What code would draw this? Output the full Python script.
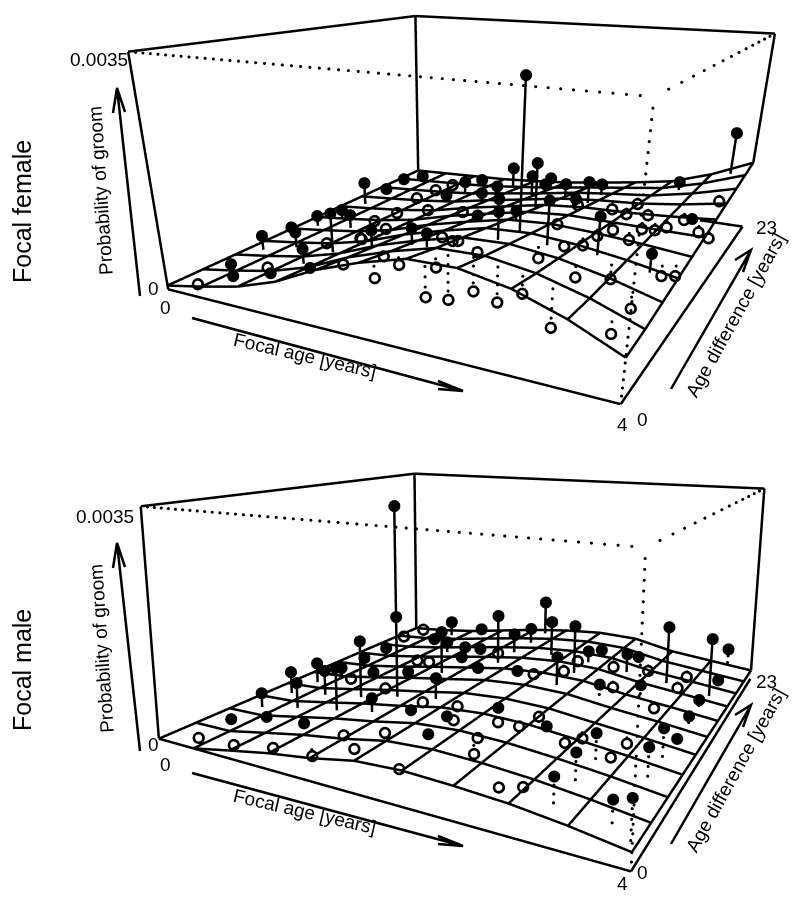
import numpy as np, plotly.graph_objects as go
# Axes: focal age [years], age difference [years], probability of groom (in 1e-6)
AGE_NODES=[0,.4,.8,1.2,1.6,2,2.4,2.8,3.2,3.6,4]
DIFF_NODES=[0,2.3,4.6,6.9,9.2,11.5,13.8,16.1,18.4,20.7,23]
AGE_MAX,DIFF_MAX,PROB_MAX=4,23,3500
# Fitted surface: one row per age difference, one column per focal age
female_surface=[
[63,189,333,552,865,1103,1288,1300,1172,935,615],
[75,189,319,517,802,1020,1195,1213,1108,915,656],
[87,191,310,489,748,949,1115,1142,1062,917,722],
[99,194,301,461,695,879,1036,1072,1017,919,787],
[111,196,292,433,641,808,956,1002,972,920,852],
[124,200,284,406,588,738,878,932,927,922,917],
[138,203,276,379,536,668,799,862,882,925,983],
[151,207,268,352,483,599,720,793,837,927,1048],
[165,211,261,325,430,529,642,723,792,929,1113],
[178,215,253,299,378,459,563,653,747,931,1178],
[191,217,244,270,323,388,483,582,700,930,1241]]
male_surface=[
[0,0,123,240,329,453,486,459,415,333,224],
[0,7,126,242,333,453,487,460,405,323,218],
[0,15,129,244,337,452,488,461,396,314,212],
[0,24,133,246,341,452,489,462,386,304,205],
[0,32,136,248,345,452,490,463,376,295,199],
[0,35,135,247,346,449,489,463,365,285,193],
[0,38,133,245,346,445,487,462,354,275,186],
[0,40,132,243,347,442,486,461,343,265,180],
[0,43,130,241,347,439,484,461,332,255,173],
[0,46,129,239,347,435,483,460,321,244,167],
[0,49,127,237,348,432,482,460,311,235,161]]
# Observations: age*100, diff*10, probability, fitted value at that place
female_filled=[(49,15,418,220),(57,11,296,247),(20,55,393,142),(95,13,451,403),(19,79,314,146),(51,61,489,223),(103,31,668,425),(142,9,738,708),(23,99,355,163),(108,50,1072,429),(31,116,340,183),(65,98,496,254),(23,146,606,178),(25,168,315,188),(18,195,300,190),(30,208,295,206),(108,187,512,304),(112,206,420,291),(147,188,510,386),(149,209,729,350),(196,178,907,536),(243,122,1652,859),(192,213,591,424),(197,197,603,482),(241,167,945,701),(270,69,3271,1064),(102,169,370,309),(157,156,658,483),(193,137,795,648),(267,50,1528,1121),(247,93,1108,962),(302,58,1716,1069),(208,95,911,827),(206,35,1260,1009),(162,40,1051,771),(228,27,1328,1128),(275,151,1188,815),(272,178,930,723),(273,135,1018,862),(339,64,1538,976),(342,195,1008,859),(382,131,1010,944),(380,65,1120,847),(383,217,1835,1087)]
female_open=[(30,3,159,159),(54,36,147,232),(62,78,159,250),(152,25,646,739),(213,0,935,1164),(86,90,203,314),(64,215,125,236),(57,199,121,231),(55,177,123,229),(95,153,185,306),(144,146,342,458),(66,144,128,250),(60,125,123,242),(93,109,215,328),(90,88,220,330),(199,68,780,877),(222,55,919,1012),(185,30,825,916),(220,12,1010,1151),(255,0,822,1292),(251,12,1077,1242),(253,20,529,1214),(259,36,481,1160),(261,37,1058,1159),(293,20,643,1186),(313,19,852,1138),(295,58,856,1080),(335,20,450,1041),(307,71,938,1029),(276,106,855,954),(258,162,638,750),(295,159,687,814),(314,150,730,853),(310,178,659,788),(334,151,757,880),(321,116,793,925),(342,125,783,916),(353,126,788,920),(360,133,790,924),(369,147,809,944),(389,130,821,951),(400,124,815,943),(388,177,921,1044),(316,101,828,956),(315,83,854,994),(341,106,789,933),(332,49,796,1013),(352,62,690,940),(383,79,648,859),(392,83,634,846),(379,43,593,818),(379,19,562,791),(231,51,987,1063)]
male_filled=[(25,55,256,12),(24,79,399,16),(61,59,505,77),(26,100,380,21),(62,81,514,87),(108,57,912,215),(36,115,186,32),(106,79,1164,207),(35,162,181,35),(142,82,1632,300),(142,82,3395,300),(144,58,527,301),(183,81,750,406),(143,126,1052,304),(68,190,232,103),(103,172,397,193),(64,217,386,96),(104,217,326,195),(184,149,1274,406),(125,172,355,255),(147,168,412,313),(143,149,399,303),(182,173,747,397),(183,196,682,400),(181,221,1044,393),(224,172,1089,467),(264,124,946,473),(265,147,1296,471),(265,169,673,470),(303,170,715,390),(341,171,1281,296),(381,169,1193,217),(61,36,173,74)]
male_filled_dotted=[(382,10,607,270),(397,4,778,232),(344,9,733,363),(382,54,698,254),(332,140,532,330),(382,76,702,248),(344,54,744,344),(344,31,758,353),(382,122,374,232),(380,148,359,226),(305,122,631,400),(381,191,282,209),(383,98,299,239),(297,66,534,431),(303,192,479,385),(267,188,545,468),(377,229,514,205),(28,31,74,7),(105,34,246,199),(183,58,467,487),(220,55,531,470),(226,33,533,475),(222,128,557,470),(248,75,546,484),(179,130,467,395),(112,119,299,225),(73,117,193,117),(28,144,108,27)]
male_open=[(27,10,0,2),(63,12,0,75),(102,14,82,189),(146,11,168,300),(144,35,189,297),(174,20,273,375),(46,116,0,51),(7,207,0,8),(11,229,0,13),(72,165,0,114),(89,163,34,156),(100,106,80,190),(177,41,278,385),(165,85,255,356),(204,81,359,456),(218,63,376,469),(251,51,363,481),(259,39,303,475),(151,187,181,324),(252,70,389,481),(269,72,363,470),(226,144,364,472),(274,88,357,467),(247,158,353,482),(310,69,302,406),(233,4,427,480),(301,14,342,433),(314,20,323,415),(248,178,366,480),(283,182,321,452),(312,194,222,354),(300,152,281,405),(347,202,139,271),(348,179,155,281),(344,141,171,305),(317,80,267,388),(348,89,200,320),(346,70,217,332)]

W,H=792,893
LW=5
DOT_STEP=120
def lines(sc,pairs,width=LW):
    x,y,z=[],[],[]
    for a,b in pairs:
        x+=[a[0],b[0],None];y+=[a[1],b[1],None];z+=[a[2],b[2],None]
    return go.Scatter3d(x=x,y=y,z=z,mode='lines',line=dict(color='black',width=width),scene=sc,showlegend=False,hoverinfo='skip')
def rows(p):
    a=np.array(p,float);return a[:,0]/100,a[:,1]/10,a[:,2],a[:,3]
def stems(sc,p):
    x,y,z,f=rows(p)
    return lines(sc,[((a,b,c),(a,b,d)) for a,b,c,d in zip(x,y,z,f)])
def dots(sc,xs,ys,zs):
    return go.Scatter3d(x=xs,y=ys,z=zs,mode='markers',marker=dict(size=1.8,color='black',opacity=1),scene=sc,showlegend=False,hoverinfo='skip')
def dotted_stems(sc,p):
    X,Y,Z=[],[],[]
    for a,b,c,d in zip(*rows(p)):
        n=int(abs(c-d)//DOT_STEP)
        for k in range(1,n+1):
            X.append(a);Y.append(b);Z.append(c+(d-c)*k/(n+.4))
    return dots(sc,X,Y,Z)
def pts(sc,p,style):
    x,y,z,f=rows(p)
    return go.Scatter3d(x=x,y=y,z=z,mode='markers',marker=style,scene=sc,showlegend=False,hoverinfo='skip')
FILLED=dict(size=7,color='black',opacity=1)
RING_SIZES=[5.0,5.5,6.0,6.5,7.0]
def panel(sc,S,filled,dotted,opened,back_from):
    S=np.array(S,float);T=[]
    pr=[]
    for j,d in enumerate(DIFF_NODES):
        pr+=[((AGE_NODES[i],d,S[j,i]),(AGE_NODES[i+1],d,S[j,i+1])) for i in range(10)]
    for i,a in enumerate(AGE_NODES):
        pr+=[((a,DIFF_NODES[j],S[j,i]),(a,DIFF_NODES[j+1],S[j+1,i])) for j in range(10)]
    T.append(lines(sc,pr))
    A,D,P=AGE_MAX,DIFF_MAX,PROB_MAX
    box=[((0,0,0),(A,0,0)),((A,0,0),(A,D,0)),((0,0,0),(0,0,P)),((0,0,P),(0,D,P)),((0,D,P),(A,D,P)),((A,D,P),(A,D,S[10,10])),((0,D,P),(0,D,S[10,0])),((A,D,0),(back_from,D,0))]
    T.append(lines(sc,box))
    X,Y,Z=[],[],[]
    for (a,b,n) in (((0,0,P),(A,0,P),52),((A,0,P),(A,D,P),14),((A,0,P),(A,0,0),32)):
        for k in range(1,n):
            t=k/n
            X.append(a[0]+(b[0]-a[0])*t);Y.append(a[1]+(b[1]-a[1])*t);Z.append(a[2]+(b[2]-a[2])*t)
    T.append(dots(sc,X,Y,Z))
    T.append(stems(sc,filled))
    if dotted: T.append(dotted_stems(sc,dotted))
    T.append(dotted_stems(sc,opened))
    for s in RING_SIZES:
        T.append(pts(sc,opened,dict(size=s,symbol='circle-open',color='black',opacity=1)))
    T.append(pts(sc,filled+dotted,FILLED))
    return T
fig=go.Figure()
for t in panel('scene',female_surface,female_filled,[],female_open,3.55): fig.add_trace(t)
for t in panel('scene2',male_surface,male_filled,male_filled_dotted,male_open,4): fig.add_trace(t)
def scene(p,dom):
    e=p[:3];c=p[3:6]
    return dict(domain=dict(x=[118/W,1],y=dom),aspectmode='manual',aspectratio=dict(x=1,y=p[8],z=p[9]),bgcolor='rgba(0,0,0,0)',
        camera=dict(eye=dict(x=e[0],y=e[1],z=e[2]),center=dict(x=c[0],y=c[1],z=c[2]),up=dict(x=p[6],y=p[7],z=1),projection=dict(type='perspective')),
        xaxis=dict(visible=False,range=[0,AGE_MAX]),yaxis=dict(visible=False,range=[0,DIFF_MAX]),zaxis=dict(visible=False,range=[0,PROB_MAX]))
pt=[0.7887,-1.6215,0.4179,0.0277,-0.1705,-0.3831,-0.0709,0.1197,1.0439,0.4805]
pb=[0.8,-1.5421,0.4172,-0.0857,0.0511,0.0579,-0.0684,0.1225,0.9908,0.4811]
def px(u): return (u-8)/W
def py(v): return 1-(v-8)/H
def txt(s,u,v,size=19,ang=0):
    return dict(text=s,x=px(u),y=py(v),xref='paper',yref='paper',showarrow=False,xanchor='center',yanchor='middle',textangle=ang,font=dict(family='Liberation Sans',size=size,color='black'))
anns=[];shapes=[]
def arrow(a,b,c,d):
    p=lambda q:f"{px(q[0])} {py(q[1])}"
    shapes.append(dict(type='path',xref='paper',yref='paper',path=f"M {p(a)} L {p(b)} M {p(c)} L {p(b)} L {p(d)}",line=dict(color='black',width=2.5)))
for dy,name,cy,tx,ty,r,h in ((0,'Focal female',212,99,59,307,424),(455,'Focal male',670,105,516,764,883)):
    anns+=[txt(name,22,cy,25,-90),txt('0.0035',tx,ty),txt('0',153,289+dy),txt('0',165,r),txt('4',622,h),txt('0',642,420+dy-3*(dy>0)),txt('23',766,228+dy-2*(dy>0)),
      txt('Focal age [years]',305,356+dy,19,13),txt('Age difference [years]',735,315+dy,19,-61),txt('Probability of groom',101,191+dy+(3 if dy else 0),19,-94)]
    arrow((140,296+dy),(117,88+dy),(113,113+dy),(125,112+dy))
    arrow((192,318+dy),(463,391+dy),(438,381+dy),(438,389+dy))
    arrow((671,389+dy),(751,250+dy),(735,260+dy),(743,272+dy))
fig.update_layout(width=W,height=H,margin=dict(l=0,r=0,t=0,b=0),paper_bgcolor='white',showlegend=False,annotations=anns,shapes=shapes,
    scene=scene(pt,[1-660/H,1]),scene2=scene(pb,[0,660/H]))
fig.write_html("out.html")
